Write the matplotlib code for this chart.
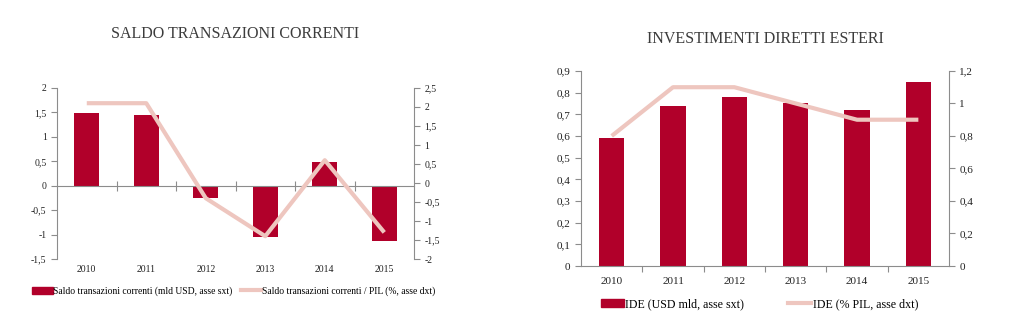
import matplotlib
matplotlib.use("Agg")
import matplotlib.pyplot as plt
from matplotlib.ticker import FuncFormatter, FixedLocator, MultipleLocator
from matplotlib.lines import Line2D
from matplotlib.patches import Patch
import numpy as np

plt.rcParams['font.family'] = ['Liberation Serif', 'DejaVu Serif']

years = ['2010', '2011', '2012', '2013', '2014', '2015']

# Saldo transazioni correnti
saldo_usd = [1.49, 1.45, -0.25, -1.05, 0.49, -1.13]
saldo_pil = [2.1, 2.1, -0.4, -1.4, 0.6, -1.3]

# Investimenti diretti esteri
ide_usd = [0.59, 0.74, 0.78, 0.75, 0.72, 0.85]
ide_pil = [0.8, 1.1, 1.1, 1.0, 0.9, 0.9]

BAR = '#B1002A'
LINE = '#EEC6BF'
SPINE = '#8C8C8C'
TXT = '#222222'
TITLE = '#3C3C3C'


def comma(v, pos=None):
    s = ('%.2f' % v).rstrip('0').rstrip('.')
    if s in ('-0', ''):
        s = '0'
    return s.replace('.', ',')


def style_axes(ax, ax2, fs):
    for a in (ax, ax2):
        a.spines['top'].set_visible(False)
        a.spines['left'].set_color(SPINE)
        a.spines['right'].set_color(SPINE)
        a.spines['bottom'].set_color(SPINE)
        a.tick_params(axis='y', colors=SPINE, labelcolor=TXT, labelsize=fs, length=4, width=0.8)
    ax.yaxis.set_major_formatter(FuncFormatter(comma))
    ax2.yaxis.set_major_formatter(FuncFormatter(comma))
    ax2.spines['left'].set_visible(False)
    ax.spines['right'].set_visible(False)
    ax2.spines['bottom'].set_visible(False)


fig = plt.figure(figsize=(10.22, 3.24), dpi=100)
x = np.arange(len(years))

# ---------- left chart ----------
ax = fig.add_axes([0.0558, 0.2006, 0.3493, 0.5278])
ax.bar(x, saldo_usd, width=0.42, color=BAR, zorder=2)
ax.set_ylim(-1.5, 2)
ax.yaxis.set_major_locator(MultipleLocator(0.5))
ax.set_xlim(-0.5, 5.5)
ax2 = ax.twinx()
ax2.plot(x, saldo_pil, color=LINE, lw=3, solid_capstyle='butt', zorder=3)
ax2.set_ylim(-2, 2.5)
ax2.yaxis.set_major_locator(MultipleLocator(0.5))
style_axes(ax, ax2, 7)
ax.spines['bottom'].set_position(('data', 0))
ax.set_xticks(x)
ax.set_xticklabels(years)
ax.xaxis.set_minor_locator(FixedLocator(x[:-1] + 0.5))
ax.tick_params(axis='x', which='major', length=0, pad=57, labelsize=7, labelcolor=TXT)
ax.tick_params(axis='x', which='minor', direction='inout', length=7, width=0.8, color=SPINE)
ax.set_title('SALDO TRANSAZIONI CORRENTI', fontsize=11.5, color=TITLE, pad=36)

h1 = [Patch(color=BAR), Line2D([], [], color=LINE, lw=3)]
fig.legend(h1, ['Saldo transazioni correnti (mld USD, asse sxt)',
                'Saldo transazioni correnti / PIL (%, asse dxt)'],
           loc='center', bbox_to_anchor=(0.229, 0.101), ncol=2, frameon=False,
           fontsize=6.9, handlelength=2.1, handleheight=0.8, handletextpad=0.1,
           columnspacing=0.9)

# ---------- right chart ----------
bx = fig.add_axes([0.5685, 0.179, 0.3601, 0.602])
bx.bar(x, ide_usd, width=0.41, color=BAR, zorder=2)
bx.set_ylim(0, 0.9)
bx.yaxis.set_major_locator(MultipleLocator(0.1))
bx.set_xlim(-0.5, 5.5)
bx2 = bx.twinx()
bx2.plot(x, ide_pil, color=LINE, lw=3, solid_capstyle='butt', zorder=3)
bx2.set_ylim(0, 1.2)
bx2.yaxis.set_major_locator(MultipleLocator(0.2))
style_axes(bx, bx2, 8)
bx.set_xticks(x)
bx.set_xticklabels(years)
bx.xaxis.set_minor_locator(FixedLocator(x[:-1] + 0.5))
bx.tick_params(axis='x', which='major', length=0, pad=8, labelsize=8, labelcolor=TXT)
bx.tick_params(axis='x', which='minor', direction='out', length=4, width=0.8, color=SPINE)
bx.set_title('INVESTIMENTI DIRETTI ESTERI', fontsize=11.5, color=TITLE, pad=20)

h2 = [Patch(color=BAR), Line2D([], [], color=LINE, lw=3)]
fig.legend(h2, ['IDE (USD mld, asse sxt)', 'IDE (% PIL, asse dxt)'],
           loc='center', bbox_to_anchor=(0.7433, 0.062), ncol=2, frameon=False,
           fontsize=8.6, handlelength=1.9, handleheight=0.7, handletextpad=0.15,
           columnspacing=3.7)

fig.savefig('out.png', dpi=100)
